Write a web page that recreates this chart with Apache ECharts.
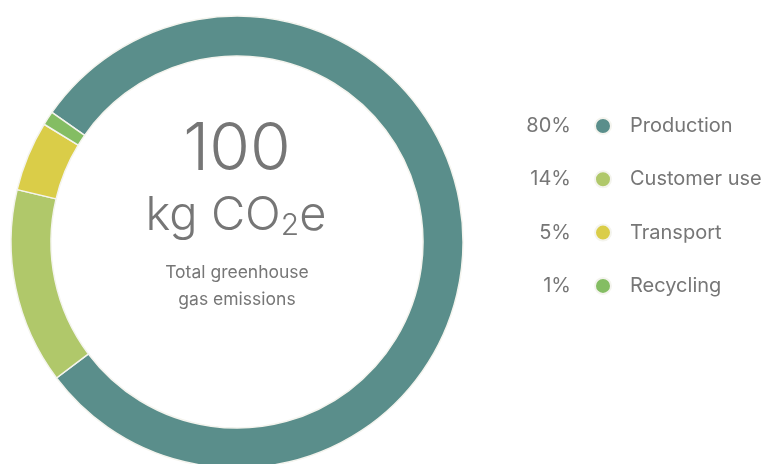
<!DOCTYPE html>
<html>
<head>
<meta charset="utf-8">
<script src="https://cdn.jsdelivr.net/npm/echarts@6/dist/echarts.min.js"></script>
<style>
  html, body { margin: 0; padding: 0; background: #fff; }
  #chart { width: 765px; height: 464px; }
</style>
</head>
<body>
<div id="chart"></div>
<script>
// emission sources, share in percent
const categories = ["Production", "Customer use", "Transport", "Recycling"];
const shares = [80, 14, 5, 1];
const colors = ["#5a8e8b", "#b0c86a", "#dacd48", "#84bd63"];
const totalValue = "100";
const totalUnit = "kg CO";

const textGray = "#767676";
const font = "Inter, 'Noto Sans', sans-serif";

var chart = echarts.init(document.getElementById("chart"));

const pieData = categories.map((name, i) => ({
  name: name,
  value: shares[i],
  itemStyle: { color: colors[i] },
}));

chart.setOption({
  animation: false,
  legend: [
    {
      // percentages + dots
      orient: "vertical",
      left: 506,
      top: 111,
      align: "right",
      icon: "circle",
      itemWidth: 16,
      itemHeight: 16,
      itemGap: 33.3,
      selectedMode: false,
      data: categories,
      formatter: (name) => {
        const i = categories.indexOf(name);
        return "{p|" + shares[i] + "%}{s|}";
      },
      textStyle: {
        color: textGray,
        fontFamily: font,
        fontSize: 20,
        lineHeight: 20,
        rich: {
          p: { width: 60, align: "right", fontSize: 20, color: textGray, fontFamily: font },
          s: { width: 19 },
        },
      },
    },
    {
      // names
      orient: "vertical",
      left: 620,
      top: 111,
      icon: "none",
      itemWidth: 0,
      itemHeight: 16,
      itemGap: 33.3,
      selectedMode: false,
      data: categories,
      textStyle: {
        color: textGray,
        fontFamily: font,
        fontSize: 20,
        lineHeight: 20,
      },
    },
  ],
  graphic: [
    {
      type: "text",
      z: 10,
      style: {
        x: 237,
        y: 150,
        text: totalValue,
        align: "center",
        verticalAlign: "middle",
        fill: textGray,
        font: "300 66px " + font,
      },
    },
    {
      type: "text",
      z: 10,
      style: {
        x: 236,
        y: 216,
        text: "{a|" + totalUnit + "}{b|2}{a|e}",
        align: "center",
        verticalAlign: "middle",
        rich: {
          a: { fontSize: 47, fontWeight: 300, fontFamily: font, fill: textGray, lineHeight: 50 },
          b: { fontSize: 30, fontWeight: 300, fontFamily: font, fill: textGray, lineHeight: 50, verticalAlign: "bottom", padding: [14, 0, 0, 0] },
        },
      },
    },
    {
      type: "text",
      z: 10,
      style: {
        x: 237,
        y: 286,
        text: "Total greenhouse\ngas emissions",
        align: "center",
        verticalAlign: "middle",
        fill: textGray,
        font: "17.5px " + font,
        lineHeight: 27,
      },
    },
  ],
  series: [
    {
      type: "pie",
      center: [237, 242],
      radius: [186, 226],
      startAngle: 145,
      clockwise: true,
      silent: true,
      label: { show: false },
      labelLine: { show: false },
      itemStyle: { borderColor: "#f4f4ee", borderWidth: 1.5 },
      data: pieData,
    },
  ],
});
</script>
</body>
</html>
